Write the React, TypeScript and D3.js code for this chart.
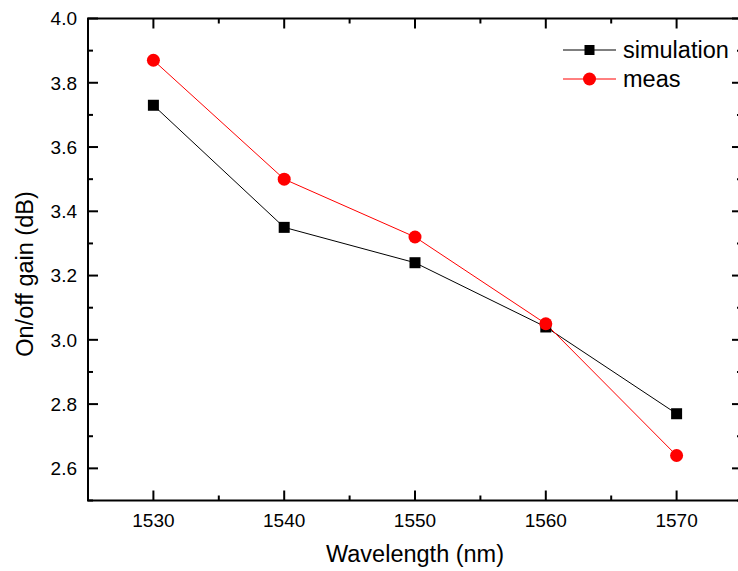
import React from "react";
import * as d3 from "d3";

const wavelengths = [1530, 1540, 1550, 1560, 1570];
const simulation = [3.73, 3.35, 3.24, 3.04, 2.77];
const meas = [3.87, 3.5, 3.32, 3.05, 2.64];
const xMajorTicks = [1530, 1540, 1550, 1560, 1570];
const xMinorTicks = [1525, 1535, 1545, 1555, 1565, 1575];
const yMajorTicks = [2.6, 2.8, 3.0, 3.2, 3.4, 3.6, 3.8, 4.0];
const yMinorTicks = [2.5, 2.7, 2.9, 3.1, 3.3, 3.5, 3.7, 3.9];

const W = 738;
const H = 571;
const L = 88, R = 742, T = 18.5, B = 500.5;
const FONT = "'Liberation Sans', Arial, sans-serif";

export default function App() {
  const x = d3.scaleLinear().domain([1525, 1575]).range([L, R]);
  const y = d3.scaleLinear().domain([2.5, 4.0]).range([B, T]);
  const line = d3.line<[number, number]>().x((d) => x(d[0])).y((d) => y(d[1]));
  const simPts: [number, number][] = wavelengths.map((w, i) => [w, simulation[i]]);
  const measPts: [number, number][] = wavelengths.map((w, i) => [w, meas[i]]);
  const maj = 10, min = 5;
  return (
    <svg width={W} height={H} style={{ position: "absolute", left: 0, top: 0, background: "#fff" }}>
      <rect x={0} y={0} width={W} height={H} fill="#fff" />
      {/* data lines */}
      <path d={line(simPts) || ""} fill="none" stroke="#000" strokeWidth={1} />
      <path d={line(measPts) || ""} fill="none" stroke="#ff0000" strokeWidth={1} />
      {simPts.map((p, i) => (
        <rect key={"s" + i} x={x(p[0]) - 5.5} y={y(p[1]) - 5.5} width={11} height={11} fill="#000" />
      ))}
      {measPts.map((p, i) => (
        <circle key={"m" + i} cx={x(p[0])} cy={y(p[1])} r={6.5} fill="#ff0000" />
      ))}
      {/* frame */}
      <rect x={L} y={T} width={R - L} height={B - T} fill="none" stroke="#000" strokeWidth={2} />
      {/* x ticks */}
      {xMajorTicks.map((t) => (
        <g key={"xm" + t}>
          <line x1={x(t)} x2={x(t)} y1={B} y2={B - maj} stroke="#000" strokeWidth={2} />
          <line x1={x(t)} x2={x(t)} y1={T} y2={T + maj} stroke="#000" strokeWidth={2} />
          <text x={x(t)} y={527} textAnchor="middle" fontFamily={FONT} fontSize={19}>{t}</text>
        </g>
      ))}
      {xMinorTicks.map((t) => (
        <g key={"xn" + t}>
          <line x1={x(t)} x2={x(t)} y1={B} y2={B - min} stroke="#000" strokeWidth={2} />
          <line x1={x(t)} x2={x(t)} y1={T} y2={T + min} stroke="#000" strokeWidth={2} />
        </g>
      ))}
      {/* y ticks */}
      {yMajorTicks.map((t) => (
        <g key={"ym" + t}>
          <line x1={L} x2={L + maj} y1={y(t)} y2={y(t)} stroke="#000" strokeWidth={2} />
          <line x1={R} x2={R - maj} y1={y(t)} y2={y(t)} stroke="#000" strokeWidth={2} />
          <text x={77} y={y(t) + 6.8} textAnchor="end" fontFamily={FONT} fontSize={19}>{t.toFixed(1)}</text>
        </g>
      ))}
      {yMinorTicks.map((t) => (
        <g key={"yn" + t}>
          <line x1={L} x2={L + min} y1={y(t)} y2={y(t)} stroke="#000" strokeWidth={2} />
          <line x1={R} x2={R - min} y1={y(t)} y2={y(t)} stroke="#000" strokeWidth={2} />
        </g>
      ))}
      {/* axis titles */}
      <text x={415} y={562} textAnchor="middle" fontFamily={FONT} fontSize={23.5}>Wavelength (nm)</text>
      <text transform={`translate(33, 274) rotate(-90)`} textAnchor="middle" fontFamily={FONT} fontSize={23.5}>On/off gain (dB)</text>
      {/* legend */}
      <line x1={563} x2={616} y1={50} y2={50} stroke="#000" strokeWidth={1} />
      <rect x={589.5 - 5} y={50 - 5} width={10} height={10} fill="#000" />
      <text x={623} y={58} fontFamily={FONT} fontSize={23.5}>simulation</text>
      <line x1={563} x2={616} y1={79} y2={79} stroke="#ff0000" strokeWidth={1} />
      <circle cx={589.5} cy={79} r={6.5} fill="#ff0000" />
      <text x={623} y={87} fontFamily={FONT} fontSize={23.5}>meas</text>
    </svg>
  );
}
